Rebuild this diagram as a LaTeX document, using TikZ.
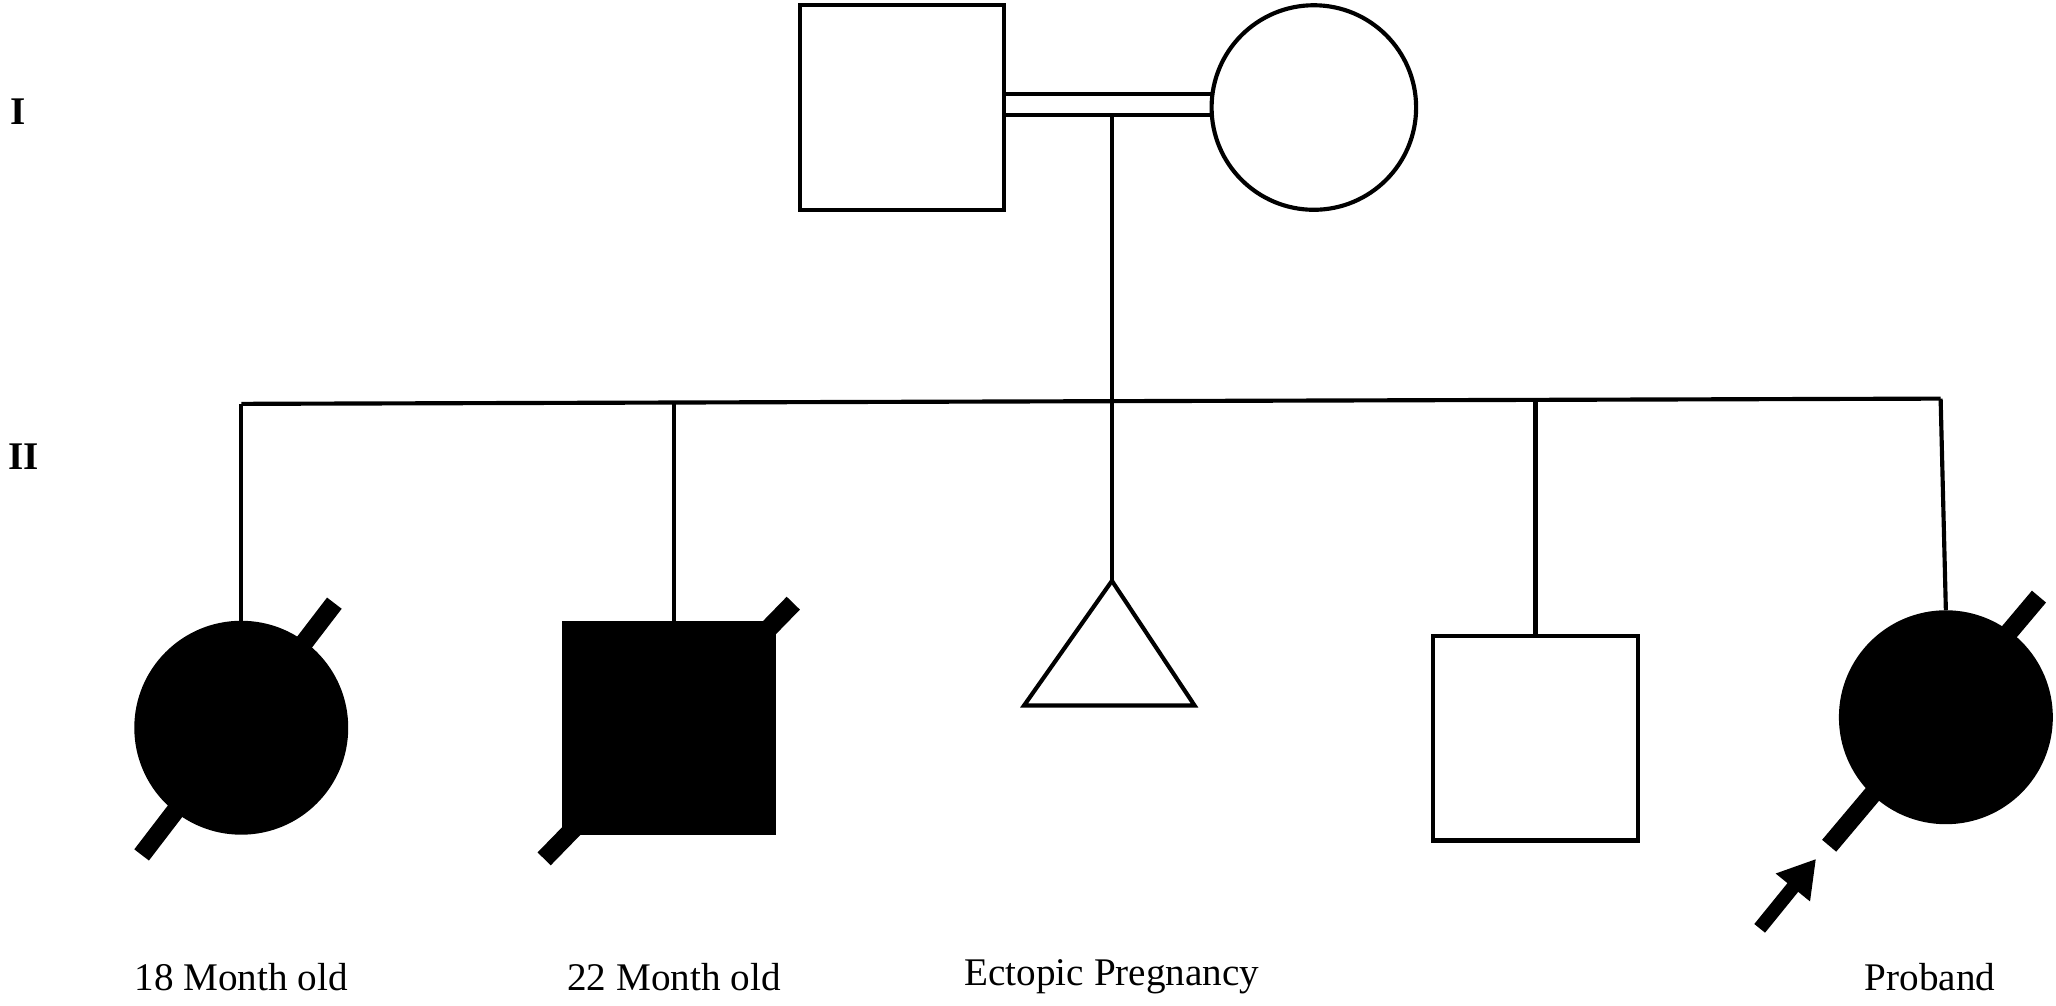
\documentclass[tikz,border=0pt]{standalone}
\usepackage{fontspec}
\setmainfont{Liberation Serif}
\usetikzlibrary{arrows.meta}
\begin{document}
\begin{tikzpicture}[x=0.02cm,y=-0.02cm,
  ln/.style={line width=1.8pt},
  slash/.style={line width=8pt},
  lbl/.style={font=\fontsize{17}{20}\selectfont},
  gen/.style={font=\fontsize{17}{20}\selectfont\bfseries}]
\useasboundingbox (0,0) rectangle (1568,767);
% generation I
\node[draw,ln,minimum size=156*0.02cm,inner sep=0] (f) at (688,82) {};
\node[draw,ln,circle,minimum size=156*0.02cm,inner sep=0] (m) at (1002,82) {};
\draw[ln] (767,72) -- (924,72);
\draw[ln] (767,88) -- (924,88);
\coordinate (mid) at (848,88);
\coordinate (sib) at (848,306);
\draw[ln] (mid) -- (sib);
\draw[ln] (184,308) -- (1480,304);
% generation II
\node[draw,ln,fill=black,circle,minimum size=160*0.02cm,inner sep=0] (c1) at (184,555) {};
\node[draw,ln,fill=black,minimum size=160*0.02cm,inner sep=0] (c2) at (510,555) {};
\coordinate (c3) at (848,443);
\draw[ln] (c3) -- (911,538) -- (781,538) -- cycle;
\node[draw,ln,minimum size=156*0.02cm,inner sep=0] (c4) at (1171,563) {};
\node[draw,ln,fill=black,circle,minimum size=160*0.02cm,inner sep=0] (c5) at (1484,547) {};
\draw[ln] (184,308) -- (c1.north);
\draw[ln] (514,308) -- (514,475);
\draw[ln] (sib) -- (c3);
\draw[ln] (1171,305) -- (c4.north);
\draw[ln] (1480,304) -- (c5.north);
% deceased slashes
\draw[slash] (108,652) -- (255,460);
\draw[slash] (415,655) -- (605,460);
\draw[slash] (1395,645) -- (1555,455);
% proband arrow
\coordinate (pa) at (1342,708);
\coordinate (pb) at (1385,655);
\draw[line width=6pt,-{Triangle[length=16pt,width=18pt]}] (pa) -- (pb);
% labels
\node[lbl] at (184,745) {18 Month old};
\node[lbl] at (514,745) {22 Month old};
\node[lbl] at (848,745) {Ectopic Pregnancy};
\node[lbl] at (1472,745) {Proband};
\node[gen] at (14,85) {I};
\node[gen] at (18,348) {II};
\end{tikzpicture}
\end{document}
